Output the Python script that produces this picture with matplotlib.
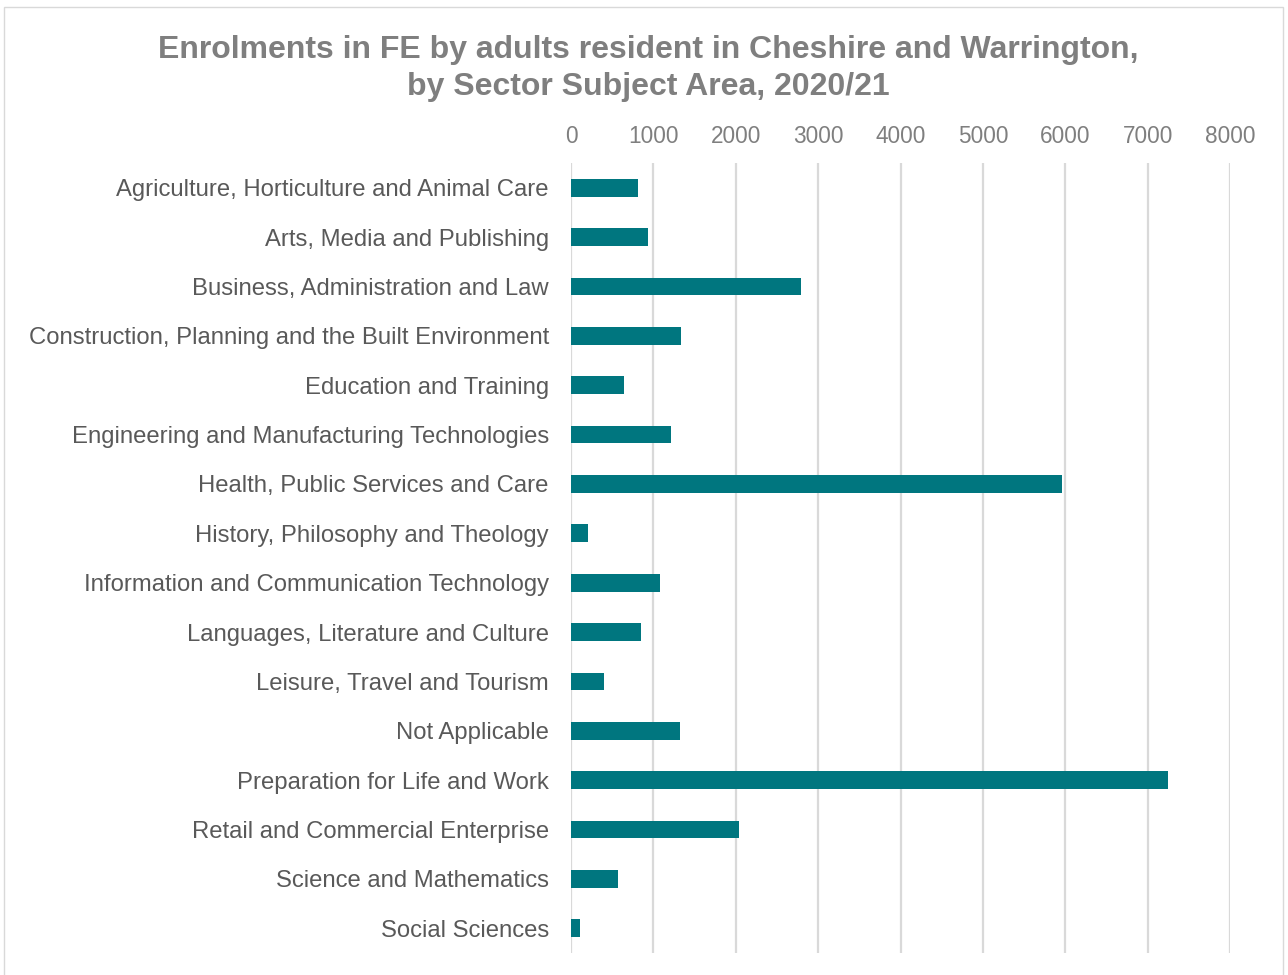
import matplotlib
matplotlib.use("Agg")
import matplotlib.pyplot as plt
from matplotlib.patches import Rectangle

categories = [
    "Agriculture, Horticulture and Animal Care",
    "Arts, Media and Publishing",
    "Business, Administration and Law",
    "Construction, Planning and the Built Environment",
    "Education and Training",
    "Engineering and Manufacturing Technologies",
    "Health, Public Services and Care",
    "History, Philosophy and Theology",
    "Information and Communication Technology",
    "Languages, Literature and Culture",
    "Leisure, Travel and Tourism",
    "Not Applicable",
    "Preparation for Life and Work",
    "Retail and Commercial Enterprise",
    "Science and Mathematics",
    "Social Sciences",
]
values = [809, 931, 2788, 1331, 647, 1214, 5955, 203, 1076, 853, 404, 1323, 7249, 2043, 567, 109]
xticks = [0, 1000, 2000, 3000, 4000, 5000, 6000, 7000, 8000]

plt.rcParams['font.family'] = ['Liberation Sans', 'DejaVu Sans']

W, H = 1288, 975
fig = plt.figure(figsize=(W/100, H/100), dpi=100)
ax = fig.add_axes([571/W, 1-953/H, (1230-571)/W, (953-163)/H])

ypos = list(range(len(categories)))
ax.barh(ypos, values, height=0.36, color="#00767F", zorder=3)
ax.set_ylim(len(categories)-0.5, -0.5)
ax.set_xlim(0, 8000)
ax.set_xticks(xticks)
ax.set_xticklabels([str(t) for t in xticks])
ax.xaxis.tick_top()
ax.set_yticks(ypos)
ax.set_yticklabels(categories)
ax.tick_params(axis='x', length=0, pad=11, labelsize=16.3, labelcolor="#7F7F7F")
ax.tick_params(axis='y', length=0, pad=16, labelsize=17.2, labelcolor="#595959")
ax.grid(axis='x', color="#D9D9D9", linewidth=1.6, zorder=0)
for s in ax.spines.values():
    s.set_visible(False)

fig.text(0.503, 1-50/H, "Enrolments in FE by adults resident in Cheshire and Warrington,",
         ha='center', va='center', fontsize=23, fontweight='bold', color="#7F7F7F")
fig.text(0.503, 1-87/H, "by Sector Subject Area, 2020/21",
         ha='center', va='center', fontsize=23, fontweight='bold', color="#7F7F7F")

fig.add_artist(Rectangle((4/W, -0.01), (1283-4)/W, 1-7/H+0.01, transform=fig.transFigure,
                         fill=False, edgecolor="#D9D9D9", linewidth=1))

fig.savefig("out.png", dpi=100)
